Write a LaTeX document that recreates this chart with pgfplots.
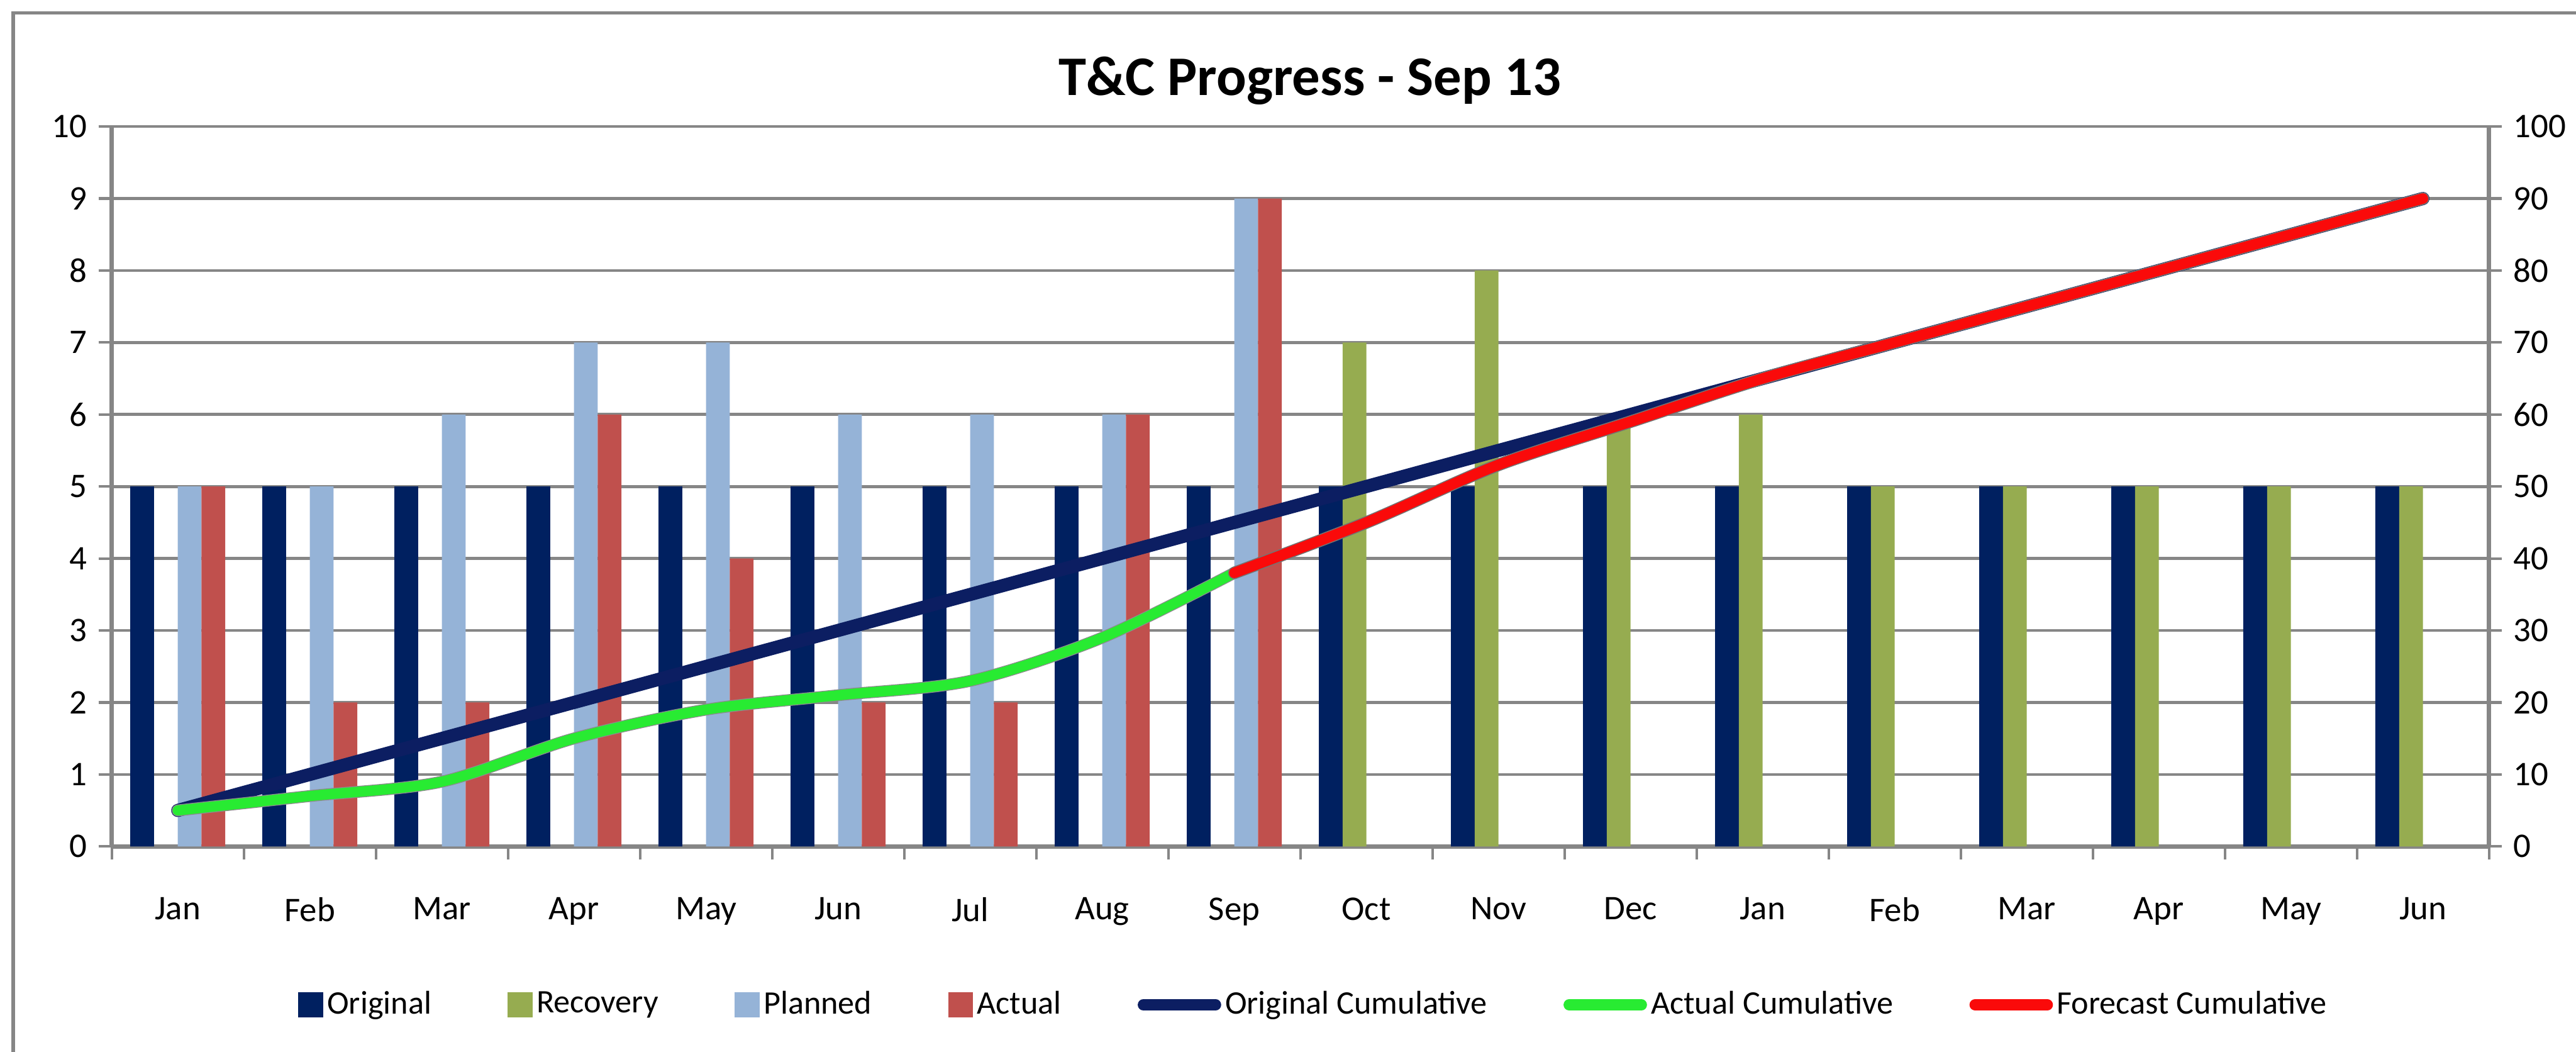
\documentclass[border=0pt]{standalone}
\usepackage{fontspec}
\setmainfont{Carlito}
\usepackage{pgfplots}
\pgfplotsset{compat=1.18}
\definecolor{navy}{RGB}{0,32,96}
\definecolor{olive}{RGB}{150,172,80}
\definecolor{planned}{RGB}{149,179,215}
\definecolor{actualc}{RGB}{192,80,77}
\definecolor{navyline}{RGB}{12,30,98}
\definecolor{greenline}{RGB}{40,235,50}
\definecolor{redline}{RGB}{250,10,10}
\definecolor{gridgray}{RGB}{134,134,134}
\definecolor{axisgray}{RGB}{134,134,134}
\pgfplotsset{
  barleg/.style={legend image code/.code={\fill[#1] (0pt,-3.8pt) rectangle (7.6pt,3.8pt);}},
  lineleg/.style={legend image code/.code={\draw[#1, line width=3.4pt, line cap=round] (0pt,0pt) -- (22pt,0pt);}},
  common/.style={
    at={(0,0)}, anchor=south west,
    scale only axis, width=723.5pt, height=219pt,
    xmin=-0.5, xmax=17.5,
    tick align=outside,
    major tick length=4pt,
    axis line style={draw=axisgray, line width=1.4pt},
    /pgf/number format/assume math mode=true,
    ticklabel style={font=\fontsize{10.5}{12}\selectfont},
  }
}
\begin{document}
\begin{tikzpicture}
\path[use as bounding box] (-34pt,-62.5pt) rectangle (750pt,257.5pt);
\draw[color=gridgray, line width=1pt] (-30pt,-90pt) rectangle (790pt,253.5pt);
\begin{axis}[
  common,
  ymin=0, ymax=10,
  ytick={0,...,10},
  xtick={0,...,17},
  xticklabels={Jan,Feb,Mar,Apr,May,Jun,Jul,Aug,Sep,Oct,Nov,Dec,Jan,Feb,Mar,Apr,May,Jun},
  minor xtick={-0.5,0.5,...,17.5},
  minor tick length=4pt,
  axis x line*=bottom, axis y line*=left,
  major x tick style={draw=none},
  minor x tick style={draw=axisgray, line width=0.8pt},
  ytick style={draw=axisgray, line width=0.8pt},
  xticklabel style={yshift=-8pt},
  ymajorgrids,
  grid style={draw=gridgray, line width=0.9pt},
  title={\bfseries T\&C Progress - Sep 13},
  title style={at={(0.504,1)}, anchor=center, yshift=8pt, font=\fontsize{17}{20}\selectfont},
  legend columns=7,
  legend cell align=left,
  legend style={at={(0.506,-0.22)}, anchor=center, draw=none, fill=none,
    font=\fontsize{10}{12}\selectfont,
    nodes={inner xsep=1.2pt, inner ysep=1pt},
    /tikz/every even column/.append style={column sep=22pt}},
]
\addplot[ybar, bar width=0.18, bar shift=-0.27, fill=navy, draw=none, barleg=navy]
  coordinates {(0,5)(1,5)(2,5)(3,5)(4,5)(5,5)(6,5)(7,5)(8,5)(9,5)(10,5)(11,5)(12,5)(13,5)(14,5)(15,5)(16,5)(17,5)};
\addlegendentry{Original}
\addplot[ybar, bar width=0.18, bar shift=-0.09, fill=olive, draw=none, barleg=olive]
  coordinates {(9,7)(10,8)(11,6)(12,6)(13,5)(14,5)(15,5)(16,5)(17,5)};
\addlegendentry{Recovery}
\addplot[ybar, bar width=0.18, bar shift=0.09, fill=planned, draw=none, barleg=planned]
  coordinates {(0,5)(1,5)(2,6)(3,7)(4,7)(5,6)(6,6)(7,6)(8,9)};
\addlegendentry{Planned}
\addplot[ybar, bar width=0.18, bar shift=0.27, fill=actualc, draw=none, barleg=actualc]
  coordinates {(0,5)(1,2)(2,2)(3,6)(4,4)(5,2)(6,2)(7,6)(8,9)};
\addlegendentry{Actual}
\addlegendimage{lineleg=navyline}
\addlegendentry{Original Cumulative}
\addlegendimage{lineleg=greenline}
\addlegendentry{Actual Cumulative}
\addlegendimage{lineleg=redline}
\addlegendentry{Forecast Cumulative}
\end{axis}
\begin{axis}[
  common,
  ymin=0, ymax=100,
  ytick={0,10,...,100},
  axis y line*=right, axis x line=none,
  ytick style={draw=axisgray, line width=0.8pt},
]
\addplot[navyline, line width=4pt, line cap=round, line join=round]
  coordinates {(0,5)(1,10)(2,15)(3,20)(4,25)(5,30)(6,35)(7,40)(8,45)(9,50)(10,55)(11,60)(12,65)(13,70)(14,75)(15,80)(16,85)(17,90)};
\addplot[greenline, line width=3.1pt, smooth, line cap=round, line join=round,
  preaction={draw=black!45, line width=3.6pt}]
  coordinates {(0,5)(1,7)(2,9)(3,15)(4,19)(5,21)(6,23)(7,29)(8,38)};
\addplot[redline, line width=3.2pt, smooth, line cap=round, line join=round,
  preaction={draw=black!55, line width=3.8pt}]
  coordinates {(8,38)(9,45)(10,53)(11,59)(12,65)(13,70)(14,75)(15,80)(16,85)(17,90)};
\end{axis}
\end{tikzpicture}
\end{document}
